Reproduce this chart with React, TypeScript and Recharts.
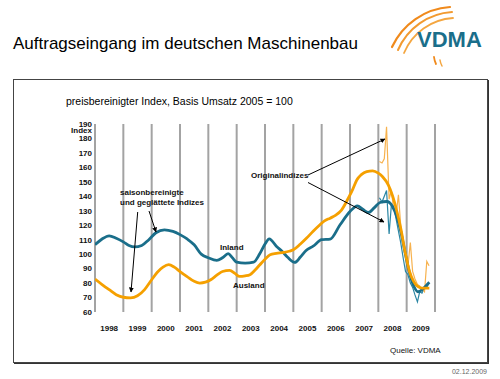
import { LineChart, Line, XAxis, YAxis, CartesianGrid } from "recharts";

// year boundaries (grid lines); labels sit in the middle of each year
const YEAR_BOUNDS = [1998, 1999, 2000, 2001, 2002, 2003, 2004, 2005, 2006, 2007, 2008, 2009, 2010];
const YEAR_LABELS = ["1998", "1999", "2000", "2001", "2002", "2003", "2004", "2005", "2006", "2007", "2008", "2009", ""];
const Y_TICKS = [60, 70, 80, 90, 100, 110, 120, 130, 140, 150, 160, 170, 180, 190];

// saisonbereinigt + geglättet
const INLAND_T = [
  1998.0, 1998.25, 1998.5, 1998.75, 1999.0, 1999.2, 1999.4, 1999.65, 1999.9, 2000.15,
  2000.45, 2000.75, 2001.0, 2001.25, 2001.5, 2001.75, 2002.0, 2002.3, 2002.5, 2002.7,
  2002.85, 2003.0, 2003.3, 2003.6, 2003.82, 2004.0, 2004.15, 2004.4, 2004.6, 2004.8,
  2005.05, 2005.25, 2005.45, 2005.7, 2006.0, 2006.3, 2006.65, 2007.0, 2007.26, 2007.45,
  2007.65, 2007.85, 2008.06, 2008.3, 2008.5, 2008.65, 2008.8, 2008.95, 2009.1, 2009.25,
  2009.4, 2009.55, 2009.7, 2009.8,
];
const INLAND_V = [
  106.5, 110.5, 112.7, 111, 108.5, 106, 105, 106, 110, 114.8,
  116.8, 115.7, 113.5, 110.5, 106.5, 100, 97.5, 95.7, 97.5, 100.3,
  97.5, 94.5, 93.8, 94.5, 100.5, 107, 110.6, 105.5, 102, 97.8,
  94.3, 98, 102.5, 105.5, 110, 110.4, 120.3, 129.5, 133.4, 131,
  128.8, 132, 135.7, 136.4, 133, 126, 115, 100.5, 87, 78,
  74, 75.5, 78.5, 80.5,
];
const AUSLAND_T = [
  1998.0, 1998.25, 1998.5, 1998.75, 1999.0, 1999.25, 1999.5, 1999.75, 2000.0, 2000.2,
  2000.4, 2000.6, 2000.8, 2001.0, 2001.25, 2001.5, 2001.7, 2001.9, 2002.1, 2002.3,
  2002.5, 2002.75, 2002.95, 2003.1, 2003.3, 2003.47, 2003.65, 2003.82, 2004.0, 2004.18,
  2004.4, 2004.65, 2004.85, 2005.0, 2005.25, 2005.47, 2005.7, 2005.94, 2006.1, 2006.3,
  2006.5, 2006.7, 2006.94, 2007.1, 2007.24, 2007.4, 2007.59, 2007.8, 2008.0, 2008.15,
  2008.35, 2008.5, 2008.65, 2008.8, 2008.95, 2009.1, 2009.25, 2009.4, 2009.55, 2009.8,
];
const AUSLAND_V = [
  82.8, 79, 75.4, 72, 70.2, 69.8, 71.2, 75.5, 82.3, 87.5,
  91, 92.7, 91, 88, 84.5, 81.2, 80, 80.6, 82.5, 85.5,
  88, 88.8, 86.5, 84.6, 85, 85.8, 89, 92.7, 96.5, 99.6,
  100.5, 101.2, 102, 103, 107, 111.1, 115.8, 120.3, 123, 124.9,
  127, 130.5, 138.7, 145, 151.3, 155, 157.1, 157.6, 156, 153.5,
  147.9, 140.5, 130, 117, 101, 88, 81, 77.5, 76.5, 76.5,
];

// Originalindizes, monatlich ab Jan 2008
const ORIG_T = [
  2008.04, 2008.13, 2008.21, 2008.29, 2008.38, 2008.46, 2008.54, 2008.63, 2008.71, 2008.79, 2008.88,
  2008.96, 2009.04, 2009.13, 2009.21, 2009.29, 2009.38, 2009.46, 2009.54, 2009.63, 2009.71, 2009.79,
];
const INLAND_ORIG = [139, 136, 140, 144, 114, 134, 133, 124, 116, 108, 97, 88, 86, 80, 77, 72, 67, 74, 73, 77, 77, 80];
const AUSLAND_ORIG = [164, 163, 166, 188, 138, 144, 131, 128, 141, 120, 108, 99, 91, 108, 88, 83, 79, 78, 76, 74, 95, 92];

const TEAL = "#1a6e8a";
const ORANGE = "#f5a000";
const FONT = "'Liberation Sans', Arial, sans-serif";

const zip = (t: number[], v: number[]) => t.map((x, i) => ({ t: x, v: v[i] }));

const inland = zip(INLAND_T, INLAND_V);
const ausland = zip(AUSLAND_T, AUSLAND_V);
const inlandOrig = zip(ORIG_T, INLAND_ORIG);
const auslandOrig = zip(ORIG_T, AUSLAND_ORIG);

const tickStyle = { fontSize: 8, fontWeight: 700, fill: "#111", fontFamily: FONT };

// half a year in pixels: plot is 340px wide for 12 years
const HALF_YEAR_PX = 340 / 12 / 2;

function YearTick({ x, y, index }: any) {
  const label = YEAR_LABELS[index] ?? "";
  if (!label) return null;
  return (
    <text x={x + HALF_YEAR_PX} y={y + 11} textAnchor="middle" {...tickStyle}>
      {label}
    </text>
  );
}

function Overlay() {
  const lbl = { fontFamily: FONT, fontSize: 8, fontWeight: 700, fill: "#111" } as const;
  return (
    <svg width={500} height={379} style={{ position: "absolute", left: 0, top: 0, pointerEvents: "none" }}>
      <defs>
        <marker id="ah" viewBox="0 0 10 10" refX="9" refY="5" markerWidth="5" markerHeight="5" orient="auto">
          <path d="M0,0 L10,5 L0,10 z" fill="#000" />
        </marker>
      </defs>
      {/* header */}
      <text x={13} y={49} fontFamily={FONT} fontSize={17} fill="#000">
        Auftragseingang im deutschen Maschinenbau
      </text>
      <g fill="none" strokeLinecap="round">
        <path d="M392,47 A69,69 0 0 1 450,7" stroke="#f08a1c" strokeWidth={2.2} />
        <path d="M398,50 A63,63 0 0 1 452,12" stroke="#f29a30" strokeWidth={2} />
        <path d="M404,53 A57,57 0 0 1 453,18" stroke="#f4a640" strokeWidth={1.8} />
        <path d="M436,64 A22,22 0 0 1 434,57" stroke="#f08a1c" strokeWidth={1.8} />
        <path d="M442,66 A18,18 0 0 1 440,60" stroke="#f4a640" strokeWidth={1.5} />
      </g>
      <text x={417} y={47} fontFamily={FONT} fontSize={22} fontWeight={700} fill={TEAL}>
        VDMA
      </text>
      {/* frame (its top edge doubles as the header rule) */}
      <rect x={13.5} y={79.5} width={474} height={283} fill="none" stroke="#444" strokeWidth={1} />
      <line x1={14} y1={363.5} x2={488.5} y2={363.5} stroke="#333" strokeWidth={1} />
      <line x1={488.5} y1={80} x2={488.5} y2={364} stroke="#333" strokeWidth={1} />
      <text x={66} y={105} fontFamily={FONT} fontSize={10.5} fill="#000">
        preisbereinigter Index, Basis Umsatz 2005 = 100
      </text>
      <text x={92} y={133} textAnchor="end" {...lbl}>
        Index
      </text>
      {/* annotations */}
      <text x={120} y={194.5} {...lbl}>saisonbereinigte</text>
      <text x={120} y={205} {...lbl}>und geglättete Indizes</text>
      <line x1={137.7} y1={212} x2={131} y2={292} stroke="#000" strokeWidth={1} markerEnd="url(#ah)" />
      <line x1={149} y1={211} x2={156} y2={232} stroke="#000" strokeWidth={1} markerEnd="url(#ah)" />
      <text x={220} y={249.5} {...lbl}>Inland</text>
      <text x={233} y={288} {...lbl}>Ausland</text>
      <text x={251} y={178} {...lbl}>Originalindizes</text>
      <line x1={308} y1={175} x2={385} y2={139} stroke="#000" strokeWidth={1} markerEnd="url(#ah)" />
      <line x1={308} y1={182.5} x2={384} y2={222} stroke="#000" strokeWidth={1} markerEnd="url(#ah)" />
      <text x={390} y={353} fontFamily={FONT} fontSize={8} fill="#111">Quelle: VDMA</text>
      <text x={487} y={373.5} textAnchor="end" fontFamily={FONT} fontSize={7} fill="#666">02.12.2009</text>
    </svg>
  );
}

export default function App() {
  return (
    <div style={{ position: "absolute", left: 0, top: 0, width: 500, height: 379, background: "#fff" }}>
      <LineChart
        width={500}
        height={379}
        margin={{ top: 124, right: 65, bottom: 47, left: 65 }}
        style={{ position: "absolute", left: 0, top: 0 }}
      >
        <CartesianGrid horizontal={false} stroke="#a3a3a3" strokeWidth={2} />
        <XAxis
          type="number"
          dataKey="t"
          domain={[1998, 2010]}
          ticks={YEAR_BOUNDS}
          interval={0}
          axisLine={false}
          tickLine={false}
          tick={<YearTick />}
          height={20}
          allowDataOverflow
        />
        <YAxis
          type="number"
          domain={[60, 190]}
          ticks={Y_TICKS}
          axisLine={false}
          tickLine={false}
          tickSize={3}
          tickMargin={0}
          width={30}
          interval={0}
          tick={tickStyle}
        />
        <Line data={inlandOrig} dataKey="v" type="linear" stroke="#2b86a4" strokeWidth={1.2} dot={false} isAnimationActive={false} />
        <Line data={auslandOrig} dataKey="v" type="linear" stroke="#f7b24e" strokeWidth={1.2} dot={false} isAnimationActive={false} />
        <Line data={inland} dataKey="v" type="monotone" stroke={TEAL} strokeWidth={2.8} dot={false} isAnimationActive={false} />
        <Line data={ausland} dataKey="v" type="monotone" stroke={ORANGE} strokeWidth={2.8} dot={false} isAnimationActive={false} />
      </LineChart>
      <Overlay />
    </div>
  );
}
